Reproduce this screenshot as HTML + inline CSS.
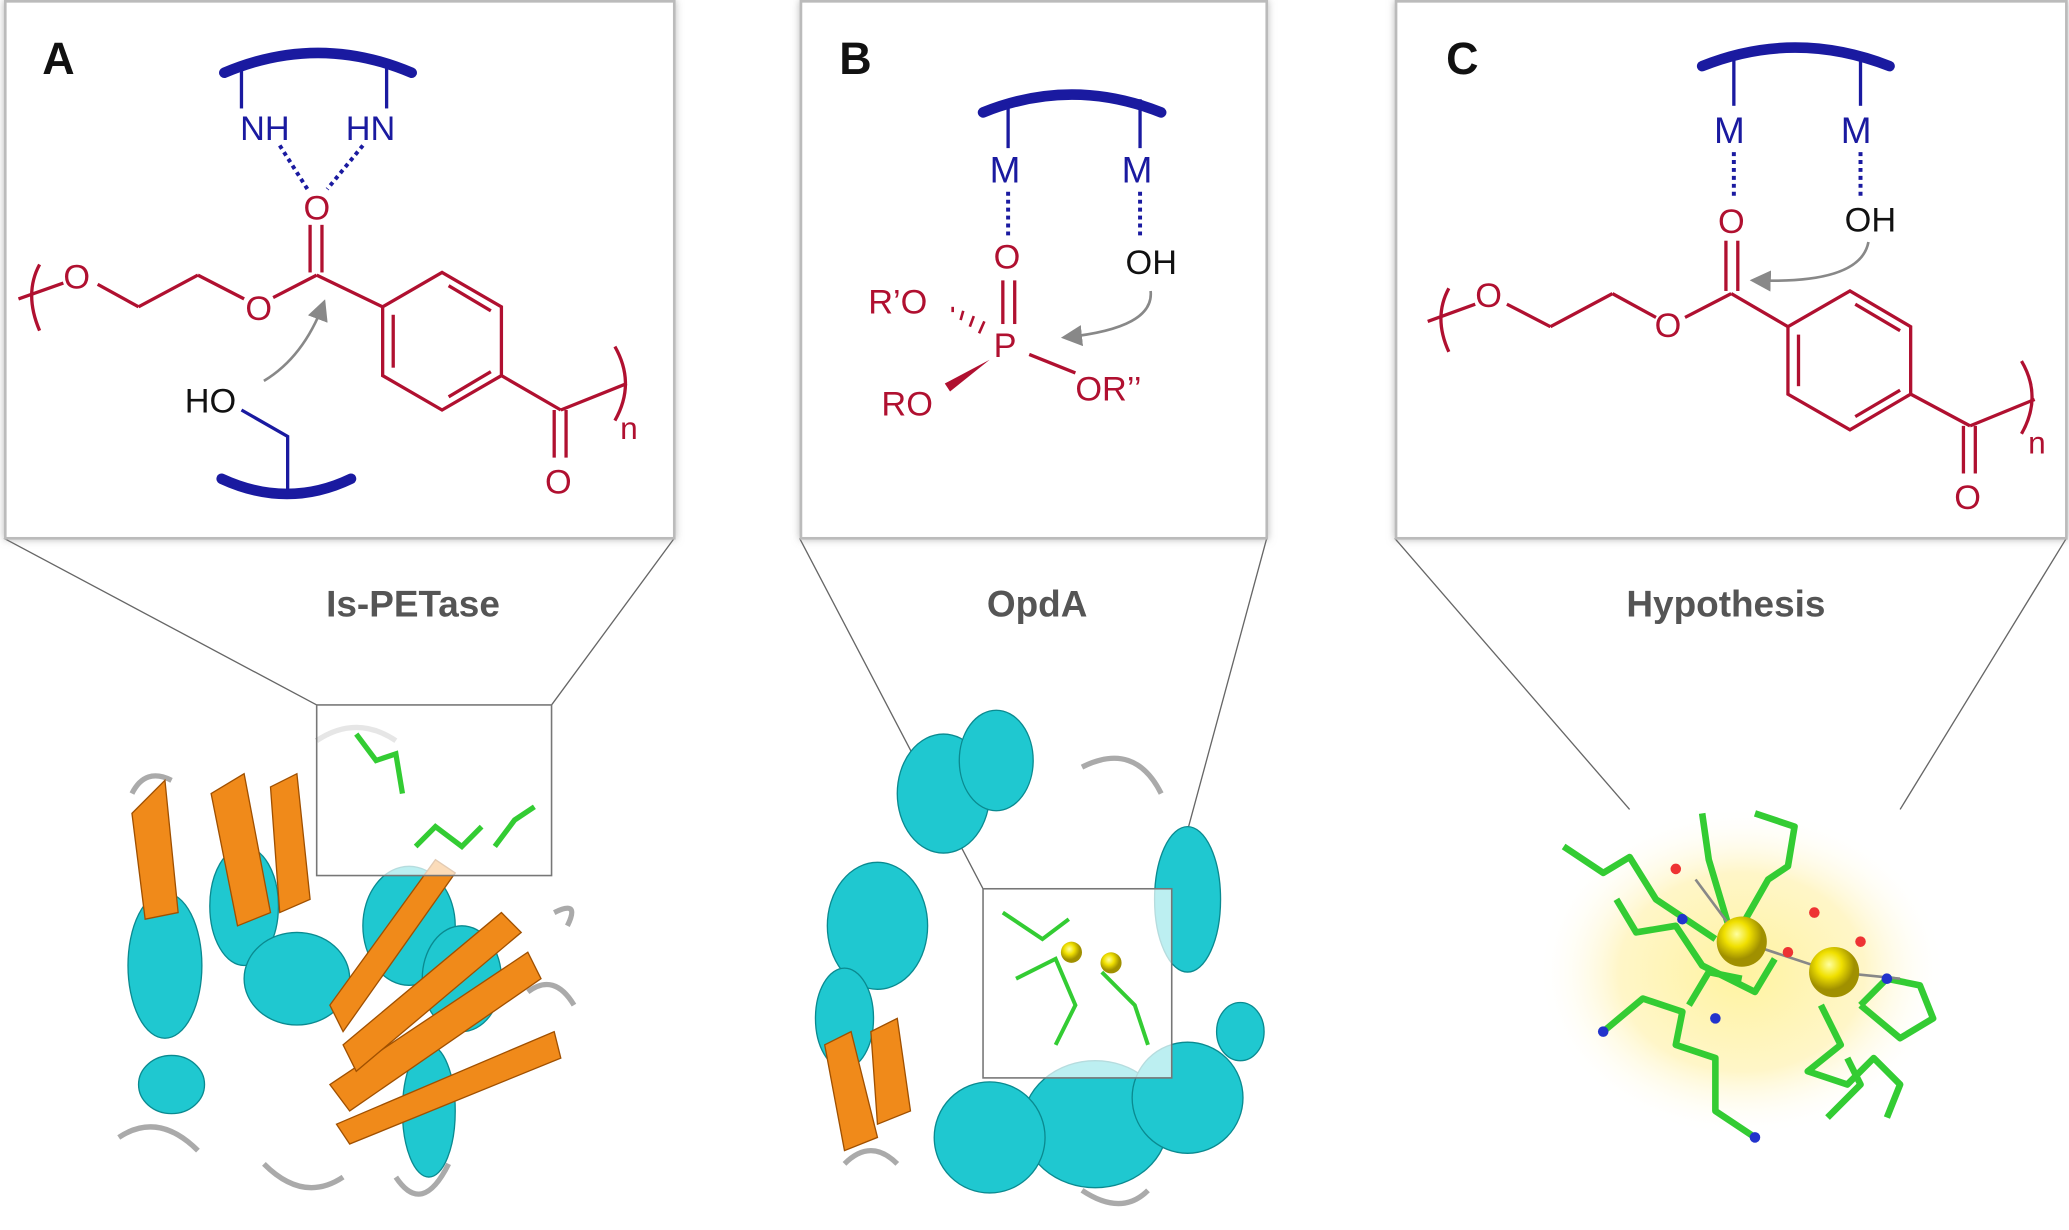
<!DOCTYPE html>
<html><head><meta charset="utf-8"><style>
html,body{margin:0;padding:0;background:#fff;}
svg{display:block;}
text{font-family:"Liberation Sans",sans-serif;}
</style></head><body>
<svg width="2069" height="1230" viewBox="0 0 1568 930" preserveAspectRatio="none" xmlns="http://www.w3.org/2000/svg">
<defs>
<radialGradient id="glow"><stop offset="0" stop-color="#fff3a0"/><stop offset="0.6" stop-color="#fff6c8"/><stop offset="1" stop-color="#fff" stop-opacity="0"/></radialGradient>
<radialGradient id="ball" cx="0.4" cy="0.35"><stop offset="0" stop-color="#ffffa0"/><stop offset="0.5" stop-color="#f0e000"/><stop offset="1" stop-color="#a09000"/></radialGradient>
<filter id="sh" x="-5%" y="-5%" width="110%" height="110%"><feDropShadow dx="0" dy="0" stdDeviation="3" flood-color="#888" flood-opacity="0.6"/></filter>
<marker id="ar" markerWidth="8" markerHeight="8" refX="6" refY="4" orient="auto"><path d="M0,0 L8,4 L0,8 z" fill="#888"/></marker>
</defs>
<g stroke="#666" stroke-width="1" fill="none">
<line x1="3" y1="407" x2="240" y2="533"/><line x1="511" y1="407" x2="418" y2="533"/>
<line x1="606" y1="407" x2="745" y2="672"/><line x1="960" y1="407" x2="888" y2="672"/>
<line x1="1057" y1="407" x2="1235" y2="612"/><line x1="1566" y1="407" x2="1440" y2="612"/>
</g>
<rect x="4" y="1" width="507" height="406" fill="#fff" stroke="#bbb" stroke-width="2" filter="url(#sh)"/>
<rect x="607" y="1" width="353" height="406" fill="#fff" stroke="#bbb" stroke-width="2" filter="url(#sh)"/>
<rect x="1058" y="1" width="508" height="406" fill="#fff" stroke="#bbb" stroke-width="2" filter="url(#sh)"/>
<g font-weight="bold" font-size="34" fill="#111"><text x="32" y="56">A</text><text x="636" y="56">B</text><text x="1096" y="56">C</text></g>
<g font-weight="bold" font-size="28" fill="#555" text-anchor="middle"><text x="313" y="466">Is-PETase</text><text x="786" y="466">OpdA</text><text x="1308" y="466">Hypothesis</text></g>

<!-- Panel A -->
<g stroke="#1a1aa0" fill="none">
<path d="M170,55 Q241,25 312,55" stroke-width="8" stroke-linecap="round"/>
<line x1="183" y1="48" x2="183" y2="82" stroke-width="2.5"/><line x1="293" y1="48" x2="293" y2="82" stroke-width="2.5"/>
<line x1="212" y1="110" x2="233" y2="143" stroke-width="3" stroke-dasharray="3,3"/>
<line x1="275" y1="110" x2="248" y2="143" stroke-width="3" stroke-dasharray="3,3"/>
<path d="M183,310 L218,330 L218,372" stroke-width="2.5"/>
<path d="M168,362 Q218,385 266,362" stroke-width="8" stroke-linecap="round"/>
</g>
<g fill="#1a1aa0" font-size="26"><text x="182" y="106">NH</text><text x="262" y="106">HN</text></g>
<g stroke="#b01030" stroke-width="2.5" fill="none">
<path d="M30,200 Q18,222 30,250"/><line x1="14" y1="226" x2="48" y2="214"/>
<line x1="74" y1="215" x2="105" y2="232"/><line x1="105" y1="232" x2="150" y2="208"/><line x1="150" y1="208" x2="185" y2="226"/>
<line x1="207" y1="225" x2="240" y2="208"/>
<line x1="235" y1="170" x2="235" y2="206"/><line x1="244" y1="170" x2="244" y2="206"/>
<line x1="240" y1="208" x2="290" y2="232"/>
<polygon points="290,232 335,206 380,232 380,284 335,310 290,284"/>
<line x1="298" y1="278" x2="298" y2="238"/><line x1="340" y1="216" x2="372" y2="235"/><line x1="340" y1="300" x2="372" y2="281"/>
<line x1="380" y1="284" x2="425" y2="310"/><line x1="425" y1="310" x2="475" y2="290"/>
<line x1="420" y1="310" x2="420" y2="346"/><line x1="429" y1="310" x2="429" y2="346"/>
<path d="M466,262 Q482,290 466,318"/>
</g>
<g fill="#b01030" font-size="26"><text x="48" y="218">O</text><text x="186" y="242">O</text><text x="230" y="166">O</text><text x="413" y="373">O</text></g>
<text x="470" y="332" font-size="24" fill="#b01030">n</text>
<text x="140" y="312" font-size="26" fill="#111">HO</text>
<path d="M200,288 Q230,270 245,230" stroke="#888" stroke-width="2" fill="none" marker-end="url(#ar)"/>

<!-- Panel B -->
<g stroke="#1a1aa0" fill="none">
<path d="M745,85 Q812,58 880,85" stroke-width="8" stroke-linecap="round"/>
<line x1="764" y1="78" x2="764" y2="112" stroke-width="2.5"/><line x1="864" y1="75" x2="864" y2="112" stroke-width="2.5"/>
<line x1="764" y1="145" x2="764" y2="180" stroke-width="3" stroke-dasharray="3,3"/>
<line x1="864" y1="145" x2="864" y2="180" stroke-width="3" stroke-dasharray="3,3"/>
</g>
<g fill="#1a1aa0" font-size="28"><text x="750" y="138">M</text><text x="850" y="138">M</text></g>
<g stroke="#b01030" stroke-width="2.5" fill="none">
<line x1="760" y1="212" x2="760" y2="245"/><line x1="769" y1="212" x2="769" y2="245"/>
<line x1="780" y1="268" x2="815" y2="282"/>
<g stroke-width="2"><line x1="722" y1="232" x2="722" y2="236"/><line x1="730" y1="235" x2="728" y2="242"/><line x1="738" y1="239" x2="735" y2="247"/><line x1="746" y1="243" x2="742" y2="252"/></g>
</g>
<polygon points="750,272 716,290 720,296" fill="#b01030"/>
<g fill="#b01030" font-size="26"><text x="753" y="203">O</text><text x="753" y="270">P</text><text x="658" y="237">R’O</text><text x="668" y="314">RO</text><text x="815" y="303">OR’’</text></g>
<text x="853" y="207" font-size="26" fill="#111">OH</text>
<path d="M872,220 Q875,248 808,255" stroke="#888" stroke-width="2" fill="none" marker-end="url(#ar)"/>

<!-- Panel C -->
<g stroke="#1a1aa0" fill="none">
<path d="M1290,50 Q1360,22 1432,50" stroke-width="8" stroke-linecap="round"/>
<line x1="1314" y1="44" x2="1314" y2="80" stroke-width="2.5"/><line x1="1410" y1="44" x2="1410" y2="80" stroke-width="2.5"/>
<line x1="1314" y1="115" x2="1314" y2="150" stroke-width="3" stroke-dasharray="3,3"/>
<line x1="1410" y1="115" x2="1410" y2="150" stroke-width="3" stroke-dasharray="3,3"/>
</g>
<g fill="#1a1aa0" font-size="28"><text x="1299" y="108">M</text><text x="1395" y="108">M</text></g>
<g stroke="#b01030" stroke-width="2.5" fill="none">
<path d="M1098,218 Q1086,240 1098,266"/><line x1="1082" y1="243" x2="1118" y2="230"/>
<line x1="1142" y1="230" x2="1175" y2="247"/><line x1="1175" y1="247" x2="1222" y2="222"/><line x1="1222" y1="222" x2="1255" y2="240"/>
<line x1="1277" y1="240" x2="1312" y2="222"/>
<line x1="1308" y1="182" x2="1308" y2="220"/><line x1="1317" y1="182" x2="1317" y2="220"/>
<line x1="1312" y1="222" x2="1355" y2="247"/>
<polygon points="1355,247 1402,220 1448,247 1448,298 1402,325 1355,298"/>
<line x1="1363" y1="292" x2="1363" y2="253"/><line x1="1406" y1="230" x2="1440" y2="250"/><line x1="1406" y1="315" x2="1440" y2="295"/>
<line x1="1448" y1="298" x2="1493" y2="322"/><line x1="1493" y1="322" x2="1542" y2="302"/>
<line x1="1488" y1="322" x2="1488" y2="358"/><line x1="1497" y1="322" x2="1497" y2="358"/>
<path d="M1532,273 Q1548,300 1532,328"/>
</g>
<g fill="#b01030" font-size="26"><text x="1118" y="232">O</text><text x="1254" y="255">O</text><text x="1302" y="176">O</text><text x="1481" y="385">O</text></g>
<text x="1537" y="343" font-size="24" fill="#b01030">n</text>
<text x="1398" y="175" font-size="26" fill="#111">OH</text>
<path d="M1416,183 Q1410,215 1330,212" stroke="#888" stroke-width="2" fill="none" marker-end="url(#ar)"/>

<!-- Protein A -->
<g>
<path d="M90,860 Q120,840 150,870 M100,600 Q110,580 130,590 M200,880 Q230,910 260,890 M300,890 Q320,920 340,880 M400,750 Q420,735 435,760 M420,690 Q440,680 430,700 M240,560 Q270,540 300,560" stroke="#aaa" stroke-width="4" fill="none"/>
<g fill="#1fc8d0" stroke="#0a8a90" stroke-width="1">
<ellipse cx="125" cy="730" rx="28" ry="55"/><ellipse cx="185" cy="685" rx="26" ry="45"/><ellipse cx="225" cy="740" rx="40" ry="35"/>
<ellipse cx="310" cy="700" rx="35" ry="45"/><ellipse cx="350" cy="740" rx="30" ry="40"/><ellipse cx="325" cy="840" rx="20" ry="50"/><ellipse cx="130" cy="820" rx="25" ry="22"/>
</g>
<g fill="#f08a1a" stroke="#a05000" stroke-width="1">
<polygon points="100,615 125,590 135,690 110,695"/><polygon points="160,600 185,585 205,690 180,700"/><polygon points="205,595 225,585 235,680 212,690"/>
<polygon points="250,820 400,720 410,740 265,840"/><polygon points="260,790 380,690 395,705 270,810"/><polygon points="255,850 420,780 425,800 265,865"/><polygon points="250,760 330,650 345,660 260,780"/>
</g>
<rect x="240" y="533" width="178" height="129" fill="#fff" fill-opacity="0.7" stroke="#777" stroke-width="1.2"/>
<g stroke="#3c3" stroke-width="4" fill="none"><path d="M270,555 L285,575 L300,570 L305,600 M315,640 L330,625 L350,640 L365,625 M375,640 L390,620 L405,610"/></g>
</g>
<!-- Protein B -->
<g>
<path d="M640,880 Q660,860 680,880 M820,580 Q860,560 880,600 M820,900 Q850,920 870,900" stroke="#aaa" stroke-width="4" fill="none"/>
<g fill="#1fc8d0" stroke="#0a8a90" stroke-width="1">
<ellipse cx="715" cy="600" rx="35" ry="45"/><ellipse cx="665" cy="700" rx="38" ry="48"/><ellipse cx="640" cy="770" rx="22" ry="38"/>
<ellipse cx="900" cy="680" rx="25" ry="55"/><ellipse cx="830" cy="850" rx="55" ry="48"/><ellipse cx="750" cy="860" rx="42" ry="42"/>
<ellipse cx="900" cy="830" rx="42" ry="42"/><ellipse cx="940" cy="780" rx="18" ry="22"/><ellipse cx="755" cy="575" rx="28" ry="38"/>
</g>
<g fill="#f08a1a" stroke="#a05000" stroke-width="1"><polygon points="625,790 645,780 665,860 640,870"/><polygon points="660,780 680,770 690,840 665,850"/></g>
<rect x="745" y="672" width="143" height="143" fill="#fff" fill-opacity="0.7" stroke="#777" stroke-width="1.2"/>
<g stroke="#3c3" stroke-width="3" fill="none"><path d="M760,690 L790,710 L810,695 M770,740 L800,725 L815,760 L800,790 M835,735 L860,760 L870,790"/></g>
<circle cx="812" cy="720" r="8" fill="url(#ball)"/><circle cx="842" cy="728" r="8" fill="url(#ball)"/>
</g>
<!-- Hypothesis -->
<ellipse cx="1320" cy="735" rx="155" ry="125" fill="url(#glow)"/>
<g stroke="#3c3" stroke-width="5" fill="none" stroke-linejoin="round">
<path d="M1185,640 L1215,660 L1235,648 L1255,680 L1300,710"/>
<path d="M1225,680 L1240,705 L1270,700 L1290,730 L1330,750 L1345,725"/>
<path d="M1215,780 L1245,755 L1275,765 L1270,790 L1300,800 L1300,840 L1330,860"/>
<path d="M1280,760 L1295,735 L1320,740"/>
<path d="M1330,615 L1360,625 L1355,655 L1340,665 L1320,700"/>
<path d="M1290,615 L1295,650 L1310,700"/>
<path d="M1380,760 L1395,790 L1370,810 L1400,820 L1420,800 L1440,820 L1430,845"/>
<path d="M1410,760 L1430,740 L1455,745 L1465,770 L1440,785 L1410,760"/>
<path d="M1385,845 L1410,820 L1400,800"/>
</g>
<g stroke="#888" stroke-width="2"><line x1="1320" y1="712" x2="1390" y2="735"/><line x1="1320" y1="712" x2="1285" y2="665"/><line x1="1390" y1="735" x2="1440" y2="740"/></g>
<circle cx="1320" cy="712" r="19" fill="url(#ball)"/><circle cx="1390" cy="735" r="19" fill="url(#ball)"/>
<g fill="#e33"><circle cx="1375" cy="690" r="4"/><circle cx="1355" cy="720" r="4"/><circle cx="1410" cy="712" r="4"/><circle cx="1270" cy="657" r="4"/></g>
<g fill="#2233cc"><circle cx="1275" cy="695" r="4"/><circle cx="1215" cy="780" r="4"/><circle cx="1300" cy="770" r="4"/><circle cx="1330" cy="860" r="4"/><circle cx="1430" cy="740" r="4"/></g>
</svg>
</body></html>
